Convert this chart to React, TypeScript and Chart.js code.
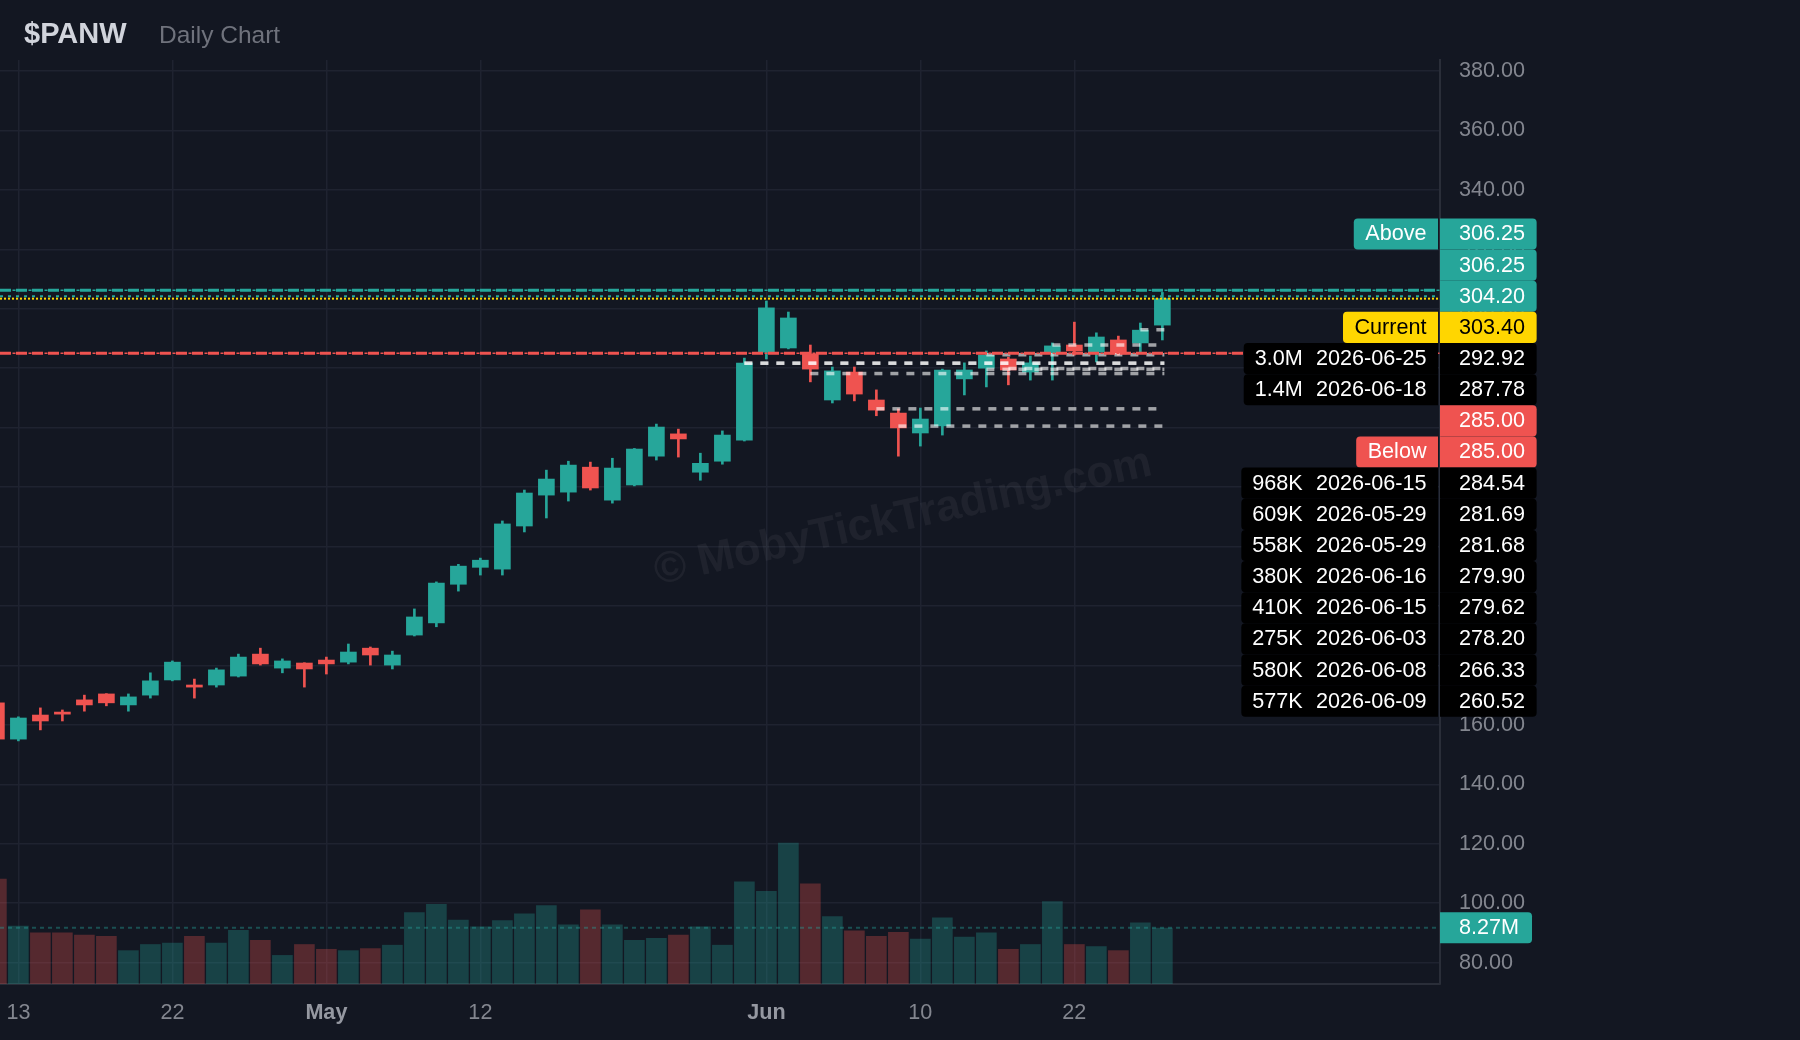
import React, { useEffect, useRef } from 'react';
import { Chart, registerables } from 'chart.js';

Chart.register(...registerables);

// ---------------- data ----------------
const symbol = '$PANW';
const chartSubtitle = 'Daily Chart';
const watermarkText = '© MobyTickTrading.com';

const dates = [
  '2026-04-10', '2026-04-13', '2026-04-14', '2026-04-15', '2026-04-16', '2026-04-17',
  '2026-04-20', '2026-04-21', '2026-04-22', '2026-04-23', '2026-04-24',
  '2026-04-27', '2026-04-28', '2026-04-29', '2026-04-30', '2026-05-01',
  '2026-05-04', '2026-05-05', '2026-05-06', '2026-05-07', '2026-05-08',
  '2026-05-11', '2026-05-12', '2026-05-13', '2026-05-14', '2026-05-15',
  '2026-05-18', '2026-05-19', '2026-05-20', '2026-05-21', '2026-05-22',
  '2026-05-26', '2026-05-27', '2026-05-28', '2026-05-29',
  '2026-06-01', '2026-06-02', '2026-06-03', '2026-06-04', '2026-06-05',
  '2026-06-08', '2026-06-09', '2026-06-10', '2026-06-11', '2026-06-12',
  '2026-06-15', '2026-06-16', '2026-06-17', '2026-06-18',
  '2026-06-22', '2026-06-23', '2026-06-24', '2026-06-25', '2026-06-26',
];

const opens = [
  167.4, 155.2, 163.3, 164.3, 168.4, 170.4, 166.7, 170.0, 175.1, 173.4, 173.4,
  176.4, 183.8, 179.1, 180.8, 181.8, 181.1, 185.8, 180.1, 190.2, 194.3, 207.3,
  213.0, 212.4, 226.9, 237.3, 238.3, 246.7, 235.6, 240.7, 250.4, 257.9, 245.0,
  248.7, 255.8, 285.4, 286.8, 284.8, 269.3, 278.7, 269.3, 264.9, 258.2, 260.6,
  276.4, 280.0, 283.1, 278.7, 285.1, 287.8, 285.4, 289.5, 288.5, 294.5,
];
const highs = [
  168.5, 162.7, 165.7, 165.0, 170.0, 170.5, 170.4, 177.5, 181.5, 175.4, 179.1,
  183.8, 185.8, 182.2, 180.9, 182.8, 187.2, 186.2, 184.8, 199.0, 208.1, 214.0,
  216.1, 228.6, 239.0, 245.7, 248.7, 248.4, 249.7, 253.0, 261.2, 259.5, 251.4,
  258.9, 283.4, 302.6, 298.9, 287.8, 280.4, 280.4, 272.7, 266.3, 266.6, 279.7,
  281.8, 285.8, 283.7, 284.1, 288.5, 295.5, 291.9, 290.8, 295.2, 305.5,
];
const lows = [
  154.6, 154.6, 158.3, 161.3, 164.6, 166.4, 164.6, 169.0, 174.8, 169.0, 172.7,
  176.1, 180.1, 177.5, 172.7, 177.1, 180.5, 180.1, 178.8, 189.9, 193.0, 205.0,
  210.4, 210.4, 224.9, 229.6, 235.3, 239.0, 234.6, 240.4, 249.1, 250.1, 242.3,
  247.7, 255.5, 283.1, 286.5, 275.4, 268.3, 269.0, 264.0, 250.4, 253.8, 257.5,
  271.0, 273.7, 274.4, 276.0, 276.0, 284.4, 282.1, 284.4, 285.4, 289.5,
];
const closes = [
  155.2, 162.3, 161.3, 163.6, 166.7, 167.4, 169.4, 174.8, 181.1, 172.7, 178.5,
  182.8, 180.5, 181.5, 178.8, 180.5, 184.5, 183.5, 183.5, 196.3, 207.7, 213.4,
  215.4, 227.6, 238.0, 242.7, 247.4, 239.7, 246.4, 252.8, 260.2, 256.2, 248.0,
  257.5, 281.7, 300.3, 296.9, 279.7, 279.1, 271.3, 265.9, 259.9, 262.9, 279.4,
  279.4, 284.4, 279.4, 281.8, 287.5, 285.8, 290.5, 284.8, 292.8, 303.4,
];
const volumes = [
  15.4e6, 8.5e6, 7.5e6, 7.5e6, 7.2e6, 7.0e6, 4.9e6, 5.8e6, 6.0e6, 7.0e6,
  6.0e6, 7.9e6, 6.4e6, 4.2e6, 5.8e6, 5.1e6, 4.9e6, 5.2e6, 5.7e6, 10.5e6,
  11.7e6, 9.4e6, 8.4e6, 9.3e6, 10.3e6, 11.5e6, 8.7e6, 10.9e6, 8.7e6, 6.4e6,
  6.7e6, 7.2e6, 8.4e6, 5.7e6, 15.0e6, 13.6e6, 20.7e6, 14.7e6, 9.9e6, 7.8e6,
  7.0e6, 7.6e6, 6.6e6, 9.7e6, 6.9e6, 7.5e6, 5.1e6, 5.8e6, 12.1e6, 5.8e6,
  5.5e6, 4.9e6, 9.0e6, 8.2e6,
];

const volumeAverage = 8.27e6;
const volumeAverageLabel = '8.27M';

const priceTicks = [80, 100, 120, 140, 160, 180, 200, 220, 240, 260, 280, 300, 320, 340, 360, 380];
const xTickDates = ['2026-04-13', '2026-04-22', '2026-05-01', '2026-05-12', '2026-06-01', '2026-06-10', '2026-06-22'];
const xTickLabels = ['13', '22', 'May', '12', 'Jun', '10', '22'];

const currentPrice = 303.40;
const alertPrices = [306.25, 306.25, 304.20, 285.00, 285.00];
const alertLabels = ['Above', '', '', '', 'Below'];
const alertSides = ['up', 'up', 'up', 'down', 'down'];

const levelPrices = [292.92, 287.78, 284.54, 281.69, 281.68, 279.90, 279.62, 278.20, 266.33, 260.52];
const levelVolumes = ['3.0M', '1.4M', '968K', '609K', '558K', '380K', '410K', '275K', '580K', '577K'];
const levelDates = ['2026-06-25', '2026-06-18', '2026-06-15', '2026-05-29', '2026-05-29', '2026-06-16', '2026-06-15', '2026-06-03', '2026-06-08', '2026-06-09'];

// ---------------- styles ----------------
const FONT = '"Liberation Sans", Arial, sans-serif';
const BG = '#131722';
const UP = '#26a69a';
const DOWN = '#ef5350';
const YELLOW = '#ffd600';
const GRID = '#1f2330';
const BORDER = '#2a2e39';
const AXIS_TEXT = '#83868f';
const FS = 21.6;

// line style per alert index: [width, dash, dashOffset]
const alertLineStyles: [number, number[], number][] = [
  [3, [11, 5], 0],
  [1.5, [3, 13], 3.5],
  [2, [3, 5], 0],
  [1.5, [3, 13], 3.5],
  [3, [11, 5], 0],
];

type Marker = { price: number; kind: string; label?: string; volume?: string; date?: string };

function fillBox(ctx: CanvasRenderingContext2D, x: number, y: number, w: number, h: number, radii: number[], color: string) {
  ctx.beginPath();
  const c: any = ctx;
  if (typeof c.roundRect === 'function') c.roundRect(x, y, w, h, radii);
  else ctx.rect(x, y, w, h);
  ctx.fillStyle = color;
  ctx.fill();
}

function hLine(ctx: CanvasRenderingContext2D, y: number, x0: number, x1: number, color: string, width: number, dash: number[], offset = 0) {
  ctx.save();
  ctx.strokeStyle = color;
  ctx.lineWidth = width;
  ctx.setLineDash(dash);
  ctx.lineDashOffset = offset;
  ctx.beginPath();
  ctx.moveTo(x0, y);
  ctx.lineTo(x1, y);
  ctx.stroke();
  ctx.restore();
}

const overlay = {
  id: 'overlay',
  beforeDraw(chart: any) {
    const ctx: CanvasRenderingContext2D = chart.ctx;
    ctx.save();
    ctx.fillStyle = BG;
    ctx.fillRect(0, 0, chart.width, chart.height);
    ctx.textAlign = 'left';
    ctx.textBaseline = 'alphabetic';
    ctx.font = `bold 29px ${FONT}`;
    ctx.fillStyle = '#d1d4dc';
    ctx.fillText(symbol, 24, 43);
    ctx.font = `24.5px ${FONT}`;
    ctx.fillStyle = '#6f727c';
    ctx.fillText(chartSubtitle, 159, 43);
    ctx.restore();
  },
  beforeDatasetsDraw(chart: any) {
    const ctx: CanvasRenderingContext2D = chart.ctx;
    const a = chart.chartArea;
    ctx.save();
    ctx.beginPath();
    ctx.rect(a.left, a.top, a.right - a.left, a.bottom - a.top);
    ctx.clip();
    ctx.translate(903, 518);
    ctx.rotate((-12.5 * Math.PI) / 180);
    ctx.font = `bold 44px ${FONT}`;
    ctx.textAlign = 'center';
    ctx.textBaseline = 'middle';
    ctx.fillStyle = 'rgba(255,255,255,0.05)';
    ctx.fillText(watermarkText, 0, 0);
    ctx.restore();
  },
  afterDatasetsDraw(chart: any) {
    const ctx: CanvasRenderingContext2D = chart.ctx;
    const a = chart.chartArea;
    const y = chart.scales.y;
    const x = chart.scales.x;
    const yv = chart.scales.yv;
    ctx.save();
    ctx.beginPath();
    ctx.rect(a.left, a.top, a.right - a.left, a.bottom - a.top);
    ctx.clip();
    // volume average
    hLine(ctx, yv.getPixelForValue(volumeAverage), a.left, a.right, 'rgba(38,166,154,0.4)', 2, [4, 4]);
    // level lines
    const lastX = x.getPixelForValue(dates.length - 1) + 2;
    levelPrices.forEach((p, i) => {
      const sx = x.getPixelForValue(dates.indexOf(levelDates[i]));
      hLine(ctx, y.getPixelForValue(p), sx, lastX, 'rgba(255,255,255,0.6)', 3.5, [8, 8]);
    });
    // alert lines
    alertPrices.forEach((p, i) => {
      const st = alertLineStyles[i];
      hLine(ctx, y.getPixelForValue(p), a.left, a.right, alertSides[i] === 'up' ? UP : DOWN, st[0], st[1], st[2]);
    });
    // current price
    hLine(ctx, y.getPixelForValue(currentPrice), a.left, a.right, YELLOW, 2, [2, 2]);
    ctx.restore();
  },
  afterDraw(chart: any) {
    const ctx: CanvasRenderingContext2D = chart.ctx;
    const y = chart.scales.y;
    const yv = chart.scales.yv;
    const axisX = chart.chartArea.right;
    const PITCH = 31.15;
    const H = PITCH;
    const labelRight = axisX - 2;
    const textRight = axisX - 13.5;

    const alertMarkers: Marker[] = alertPrices.map((p, i) => ({ price: p, kind: alertSides[i], label: alertLabels[i] || undefined }));
    const levelMarkers: Marker[] = levelPrices.map((p, i) => ({ price: p, kind: 'level', volume: levelVolumes[i], date: levelDates[i] }));
    const curMarker: Marker = { price: currentPrice, kind: 'current', label: 'Current' };
    const sorted = [...alertMarkers, curMarker, ...levelMarkers].sort((a, b) => b.price - a.price);
    // anchor: nearest marker above the current price keeps its own position
    const aboveCur = alertMarkers.filter((m) => m.price > currentPrice).sort((a, b) => a.price - b.price);
    const k = sorted.indexOf(aboveCur[0]);
    const ys: number[] = sorted.map((m) => y.getPixelForValue(m.price));
    for (let i = k + 1; i < sorted.length; i++) ys[i] = Math.max(ys[i], ys[i - 1] + PITCH);
    for (let i = k - 1; i >= 0; i--) ys[i] = Math.min(ys[i], ys[i + 1] - PITCH);

    ctx.save();
    ctx.font = `${FS}px ${FONT}`;
    ctx.textBaseline = 'middle';
    sorted.forEach((m, i) => {
      const cy = ys[i];
      const bg = m.kind === 'up' ? UP : m.kind === 'down' ? DOWN : m.kind === 'current' ? YELLOW : '#000000';
      const fg = m.kind === 'current' ? '#000000' : '#ffffff';
      const priceText = m.price.toFixed(2);
      const pw = ctx.measureText(priceText).width;
      fillBox(ctx, axisX, cy - H / 2, 19 + pw + 11.6, H, [0, 4, 4, 0], bg);
      ctx.fillStyle = fg;
      ctx.textAlign = 'left';
      ctx.fillText(priceText, axisX + 19, cy + 0.5);
      if (m.kind === 'level') {
        const dw = ctx.measureText(m.date!).width;
        const vw = ctx.measureText(m.volume!).width;
        const volRight = textRight - dw - 13.3;
        const left = volRight - vw - 11;
        fillBox(ctx, left, cy - H / 2, labelRight - left, H, [4, 0, 0, 4], bg);
        ctx.fillStyle = fg;
        ctx.textAlign = 'right';
        ctx.fillText(m.date!, textRight, cy + 0.5);
        ctx.fillText(m.volume!, volRight, cy + 0.5);
      } else if (m.label) {
        const lw = ctx.measureText(m.label).width;
        const left = textRight - lw - 11.5;
        fillBox(ctx, left, cy - H / 2, labelRight - left, H, [4, 0, 0, 4], bg);
        ctx.fillStyle = fg;
        ctx.textAlign = 'right';
        ctx.fillText(m.label, textRight, cy + 0.5);
      }
    });
    // volume average label
    const vy = yv.getPixelForValue(volumeAverage);
    const vw = ctx.measureText(volumeAverageLabel).width;
    fillBox(ctx, axisX, vy - 15.5, 19 + vw + 13, 31, [0, 4, 4, 0], UP);
    ctx.fillStyle = '#ffffff';
    ctx.textAlign = 'left';
    ctx.fillText(volumeAverageLabel, axisX + 19, vy + 0.5);
    ctx.restore();
  },
};

export default function App() {
  const ref = useRef<HTMLCanvasElement>(null);
  useEffect(() => {
    const canvas = ref.current;
    if (!canvas) return;
    const idx = dates.map((_, i) => i);
    const isUp = closes.map((c, i) => c >= opens[i]);
    const candleColor = isUp.map((u) => (u ? UP : DOWN));
    const volColor = isUp.map((u) => (u ? 'rgba(38,166,154,0.3)' : 'rgba(239,83,80,0.3)'));

    const chart = new Chart(canvas, {
      type: 'bar',
      data: {
        datasets: [
          {
            label: 'Volume',
            yAxisID: 'yv',
            data: idx.map((i) => ({ x: i, y: volumes[i] })),
            backgroundColor: volColor,
            barThickness: 20,
            grouped: false,
            order: 3,
          } as any,
          {
            label: 'Wick',
            yAxisID: 'y',
            data: idx.map((i) => ({ x: i, y: [lows[i], highs[i]] })),
            backgroundColor: candleColor,
            barThickness: 2,
            grouped: false,
            order: 2,
          } as any,
          {
            label: 'Body',
            yAxisID: 'y',
            data: idx.map((i) => ({ x: i, y: [Math.min(opens[i], closes[i]), Math.max(opens[i], closes[i])] })),
            backgroundColor: candleColor,
            barThickness: 16,
            grouped: false,
            order: 1,
          } as any,
        ],
      },
      options: {
        responsive: false,
        animation: false,
        devicePixelRatio: 1,
        layout: { padding: { top: 60, left: 0, right: 0, bottom: 0 } },
        plugins: {
          legend: { display: false },
          tooltip: { enabled: false },
          title: { display: false },
        },
        scales: {
          x: {
            type: 'linear',
            position: 'bottom',
            min: 0.164,
            max: 65.62,
            offset: false,
            grid: { color: GRID, lineWidth: 1.5, drawTicks: false, offset: false },
            border: { display: true, color: BORDER, width: 2 },
            afterBuildTicks: (s: any) => {
              s.ticks = xTickDates.map((d) => ({ value: dates.indexOf(d) }));
            },
            afterFit: (s: any) => {
              s.height = 56;
              s.paddingLeft = 0;
              s.paddingRight = 0;
            },
            ticks: {
              autoSkip: false,
              maxRotation: 0,
              minRotation: 0,
              padding: 16.5,
              color: (c: any) => (/^[A-Za-z]/.test(xTickLabels[c.index] || '') ? '#9598a1' : AXIS_TEXT),
              font: (c: any) => ({
                family: FONT,
                size: FS,
                weight: /^[A-Za-z]/.test(xTickLabels[c.index] || '') ? 'bold' : 'normal',
              }),
              callback: (_v: any, i: number) => xTickLabels[i],
            },
          } as any,
          y: {
            type: 'linear',
            position: 'right',
            min: 72.8,
            max: 383.7,
            grid: { color: GRID, lineWidth: 1.5, drawTicks: false },
            border: { display: true, color: BORDER, width: 2 },
            afterBuildTicks: (s: any) => {
              s.ticks = priceTicks.map((v) => ({ value: v }));
            },
            afterFit: (s: any) => {
              s.width = 360;
              s.paddingTop = 0;
              s.paddingBottom = 0;
            },
            ticks: {
              autoSkip: false,
              padding: 19,
              color: AXIS_TEXT,
              font: { family: FONT, size: FS },
              callback: (v: any) => Number(v).toFixed(2),
            },
          } as any,
          yv: {
            type: 'linear',
            display: false,
            min: 0,
            max: 135.7e6,
          } as any,
        },
      },
      plugins: [overlay as any],
    });
    return () => chart.destroy();
  }, []);

  return (
    <div style={{ position: 'fixed', left: 0, top: 0, width: 1800, height: 1040, background: BG }}>
      <canvas ref={ref} width={1800} height={1040} style={{ display: 'block', width: 1800, height: 1040 }} />
    </div>
  );
}
